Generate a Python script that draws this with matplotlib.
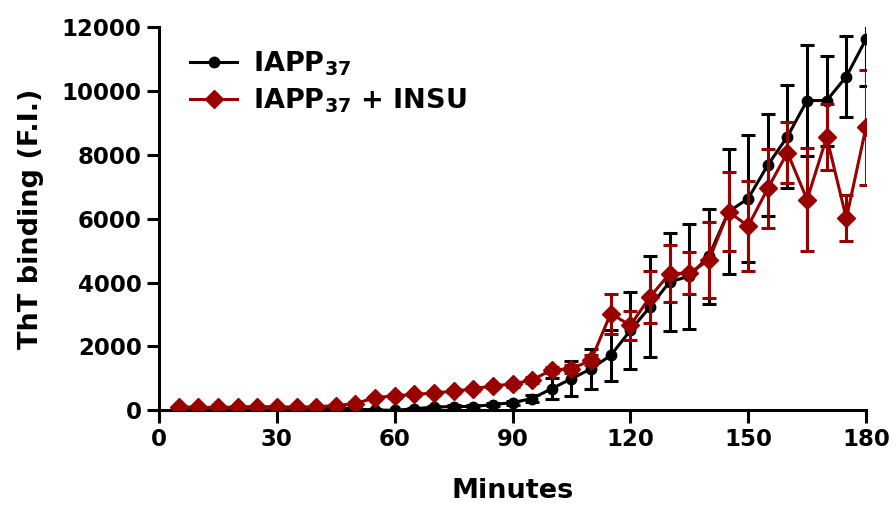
import numpy as np
import matplotlib.pyplot as plt

plt.rcParams['font.family'] = ['DejaVu Sans']
plt.rcParams['font.weight'] = 'bold'
plt.rcParams['mathtext.fontset'] = 'custom'
plt.rcParams['mathtext.rm'] = 'DejaVu Sans:bold'
plt.rcParams['mathtext.default'] = 'rm'

minutes = np.arange(5, 181, 5)

iapp = [100, 90, 90, 100, 110, 100, 90, 90, 80, 40, 10, 0, 50, 100, 120, 120, 180, 240,
        370, 680, 990, 1300, 1720, 2500, 3240, 4020, 4200, 4830, 6220, 6630, 7680, 8570,
        9700, 9700, 10450, 11620]
iapp_err = [20, 20, 20, 20, 20, 20, 20, 20, 20, 20, 20, 20, 30, 40, 40, 40, 50, 60,
            100, 340, 540, 625, 805, 1220, 1580, 1545, 1640, 1485, 1965, 2000, 1610, 1620,
            1750, 1410, 1275, 1470]

insu = [100, 90, 90, 90, 100, 100, 100, 110, 150, 210, 400, 450, 500, 540, 600, 670, 770, 820,
        950, 1270, 1300, 1570, 3030, 2660, 3550, 4280, 4300, 4700, 6220, 5770, 6950, 8070,
        6600, 8550, 6010, 8860]
insu_err = [20, 20, 20, 20, 20, 20, 20, 20, 30, 40, 50, 50, 50, 50, 60, 60, 70, 80,
            80, 100, 120, 150, 625, 450, 820, 890, 660, 1190, 1235, 1420, 1235, 965,
            1615, 1030, 720, 1790]

black = 'black'
red = '#990000'

fig = plt.figure(figsize=(8.96, 5.11), dpi=100)
ax = fig.add_axes([0.1775, 0.197, 0.789, 0.75])

# error bars first, lines with markers on top
ax.errorbar(minutes, iapp, yerr=iapp_err, fmt='none', ecolor=black,
            elinewidth=2.2, capsize=5, capthick=2.2, zorder=2)
ax.plot(minutes, iapp, color=black, marker='o', markersize=7.5, linewidth=2.2,
        label='IAPP$_{37}$', zorder=3)
ax.errorbar(minutes, insu, yerr=insu_err, fmt='none', ecolor=red,
            elinewidth=2.2, capsize=5, capthick=2.2, zorder=4)
ax.plot(minutes, insu, color=red, marker='D', markersize=9, linewidth=2.2,
        label='IAPP$_{37}$ + INSU', zorder=5)

ax.set_xlim(0, 180)
ax.set_ylim(0, 12000)
ax.set_xticks(np.arange(0, 181, 30))
ax.set_yticks(np.arange(0, 12001, 2000))
ax.spines['top'].set_visible(False)
ax.spines['right'].set_visible(False)
for s in ['left', 'bottom']:
    ax.spines[s].set_linewidth(2.2)
ax.tick_params(width=2.2, length=9, labelsize=16.5)
for lab in ax.get_xticklabels() + ax.get_yticklabels():
    lab.set_fontweight('bold')

ax.set_xlabel('Minutes', fontsize=19.5, fontweight='bold', labelpad=20)
ax.set_ylabel('ThT binding (F.I.)', fontsize=19.5, fontweight='bold', labelpad=12.5)

leg = ax.legend(loc='upper left', bbox_to_anchor=(0.01, 1.005), frameon=False,
                fontsize=19.5, handlelength=1.7, handletextpad=0.6, labelspacing=0.3)

fig.savefig('out.png', dpi=100)
